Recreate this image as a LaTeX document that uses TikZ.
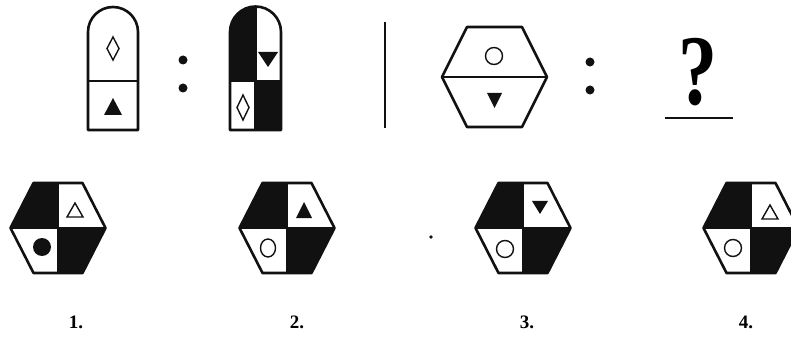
\documentclass[tikz,border=0pt]{standalone}
\usepackage{fontspec}
\setmainfont{Liberation Serif}
\usepackage{tikz}
\usetikzlibrary{calc}
\definecolor{ink}{HTML}{111111}

\begin{document}
\begin{tikzpicture}[
  x=1pt,y=-1pt,
  rim/.style={draw=ink,line width=2.6pt,line join=round},
  dark/.style={fill=ink},
  hollow/.style={draw=ink,line width=1.4pt},
  filled/.style={fill=ink},
  num/.style={font=\fontsize{19}{19}\selectfont\bfseries,inner sep=0pt},
]
\useasboundingbox (0,0) rectangle (791,347);

% ---- Bullet 1
\draw[rim] (88,130) -- (88,32) arc[start angle=180,end angle=0,radius=25pt] -- (138,130) -- cycle;
\draw[rim] (88,81) -- (138,81);
\draw[hollow] (113,37) -- (119,48.5) -- (113,60) -- (107,48.5) -- cycle;
\fill[filled] (104,115) -- (122,115) -- (113,98) -- cycle;

% ---- Colon 1
\fill[filled] (183,60) circle[radius=4.5pt];
\fill[filled] (183,88) circle[radius=4.5pt];

% ---- Bullet 2
\fill[dark] (230,81) -- (230,32) arc[start angle=180,end angle=90,radius=25.5pt] -- (255.5,81) -- cycle;
\fill[dark] (255.5,81) rectangle (281,130);
\draw[rim] (230,130) -- (230,32) arc[start angle=180,end angle=0,radius=25.5pt] -- (281,130) -- cycle;
\draw[rim] (230,81) -- (281,81) (255.5,7) -- (255.5,130);
\fill[filled] (258,52) -- (278,52) -- (268,67) -- cycle;
\draw[hollow] (243,95) -- (249,107.5) -- (243,120) -- (237,107.5) -- cycle;

% ---- Separator
\draw[line width=2.5pt,draw=ink] (385,22) -- (385,128);

% ---- Hexagon
\draw[rim] (467,27) -- (522,27) -- (547,77) -- (522,127) -- (467,127) -- (442,77) -- cycle;
\draw[rim] (442,77) -- (547,77);
\draw[hollow] (494,56) circle[radius=8.5pt];
\fill[filled] (487,93) -- (502,93) -- (494.5,108) -- cycle;

% ---- Colon 2
\fill[filled] (590,62) circle[radius=4.5pt];
\fill[filled] (590,90) circle[radius=4.5pt];

% ---- Question
\node[anchor=base,inner sep=0pt,xscale=0.78,font=\fontsize{100}{100}\selectfont\bfseries] (qm) at (698,105) {?};
\draw[line width=2pt,draw=ink] (665,118) -- (733,118);

% ---- Options
\foreach \cx in {58,287,523,751}{
  \fill[dark] (\cx,183) -- (\cx-24.5,183) -- (\cx-47.5,228) -- (\cx,228) -- cycle;
  \fill[dark] (\cx,228) -- (\cx+47.5,228) -- (\cx+24.5,273) -- (\cx,273) -- cycle;
  \draw[rim] (\cx-24.5,183) -- (\cx+24.5,183) -- (\cx+47.5,228) -- (\cx+24.5,273)
             -- (\cx-24.5,273) -- (\cx-47.5,228) -- cycle;
  \draw[rim] (\cx-47.5,228) -- (\cx+47.5,228) (\cx,183) -- (\cx,273);
}
\draw[hollow] (67,217) -- (83,217) -- (75,203) -- cycle;
\fill[filled] (42,247) circle[radius=9pt];
\fill[filled] (296,218) -- (312,218) -- (304,202) -- cycle;
\draw[hollow] (268,248) circle[x radius=7.5pt,y radius=9pt];
\fill[filled] (532,201) -- (548,201) -- (540,214) -- cycle;
\draw[hollow] (505,249) circle[radius=8.5pt];
\draw[hollow] (762,219) -- (778,219) -- (770,205) -- cycle;
\draw[hollow] (733,248) circle[radius=8.5pt];
\fill[filled] (431,237) circle[radius=1.8pt];

% ---- Labels
\node[num] (lab1) at (76,322) {1.};
\node[num] (lab2) at (297,322) {2.};
\node[num] (lab3) at (527,322) {3.};
\node[num] (lab4) at (746,322) {4.};

\end{tikzpicture}
\end{document}
